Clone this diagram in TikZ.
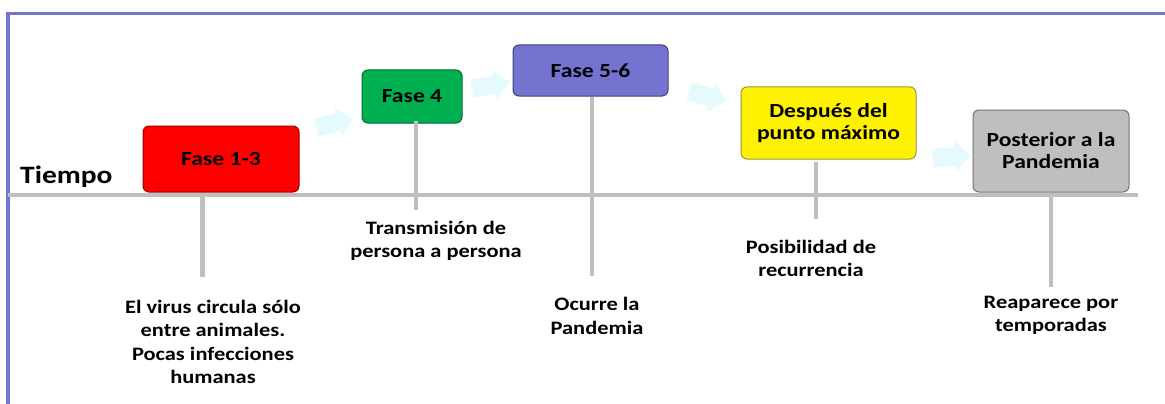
\documentclass[tikz,border=0pt]{standalone}
\usepackage{fontspec}
\usetikzlibrary{shapes.arrows}
\newfontfamily\lbl[FakeStretch=1.18]{Carlito}
\definecolor{frame}{RGB}{117,117,205}
\definecolor{axisgray}{RGB}{191,191,191}
\definecolor{arrowcyan}{RGB}{228,250,252}
\definecolor{fgreen}{RGB}{0,176,80}
\definecolor{fpurple}{RGB}{116,116,208}
\definecolor{fgray}{RGB}{191,191,191}
\tikzset{
  phase/.style={draw, line width=1pt, rounded corners=6pt, inner sep=0pt, align=center,
    font=\lbl\bfseries\fontsize{20}{22}\selectfont},
  lab/.style={inner sep=0pt, align=center, font=\lbl\bfseries\fontsize{19}{23.5}\selectfont},
  stem/.style={draw=axisgray, line width=4.5pt},
  axis/.style={draw=axisgray, line width=4pt},
  flow/.style={single arrow, fill=arrowcyan, draw=none, inner xsep=0pt, inner ysep=9pt,
    minimum height=38pt, single arrow head extend=6pt, single arrow head indent=0pt},
  framel/.style={draw=frame, line width=3.5pt}
}
\begin{document}
\begin{tikzpicture}[x=1pt,y=-1pt]
\useasboundingbox (0,0) rectangle (1165,404);
% frame
\coordinate (fl) at (8,404);
\coordinate (fc) at (8,13.5);
\coordinate (fr) at (1165,13.5);
\draw[framel] (fl) -- (fc) -- (fr);
% flow arrows
\node[flow, rotate=15] (a1) at (330,124) {};
\node[flow, rotate=10] (a2) at (486,86) {};
\node[flow, rotate=-15] (a3) at (703,95) {};
\node[flow, rotate=5] (a4) at (947,157) {};
% phase boxes
\node[phase, fill=red, draw=red!60!black, minimum width=156pt, minimum height=66pt] (f13) at (221,159) {Fase 1-3};
\node[phase, fill=fgreen, draw=fgreen!60!black, minimum width=100pt, minimum height=53pt] (f4) at (412,96.5) {Fase 4};
\node[phase, fill=fpurple, draw=fpurple!55!black, minimum width=155pt, minimum height=51pt] (f56) at (590.5,70.5) {Fase 5-6};
\node[phase, fill=yellow, draw=yellow!55!black, minimum width=175pt, minimum height=72pt] (f7) at (828.5,123) {Después del\\punto máximo};
\node[phase, fill=fgray, draw=fgray!60!black, minimum width=156pt, minimum height=82pt] (f8) at (1051,151) {Posterior a la\\Pandemia};
% timeline
\coordinate (tl) at (8,195);
\coordinate (tr) at (1138,195);
\draw[axis] (tl) -- (tr);
\node[inner sep=0pt, anchor=base west, font=\lbl\bfseries\fontsize{25}{28}\selectfont] (tiempo) at (20,183) {Tiempo};
% labels
\node[lab] (l1) at (213,342) {El virus circula sólo\\entre animales.\\Pocas infecciones\\humanas};
\node[lab] (l2) at (436,241) {Transmisión de\\persona a persona};
\node[lab] (l3) at (597,316) {Ocurre la\\Pandemia};
\node[lab] (l4) at (811,258.5) {Posibilidad de\\recurrencia};
\node[lab] (l5) at (1051,315.5) {Reaparece por\\temporadas};
% stems
\coordinate (s1) at (202.5,277);
\coordinate (s2) at (416,210);
\coordinate (s3) at (592,276);
\coordinate (s4) at (816,219);
\coordinate (s5) at (1051,287);
\draw[stem] (s1 |- tl) -- (s1);
\draw[stem] (s2 |- f4.south) ++(0,-3) -- (s2);
\draw[stem] (s3 |- f56.south) -- (s3);
\draw[stem] (s4 |- f7.south) ++(0,2) -- (s4);
\draw[stem] (s5 |- tl) -- (s5);
\end{tikzpicture}
\end{document}
